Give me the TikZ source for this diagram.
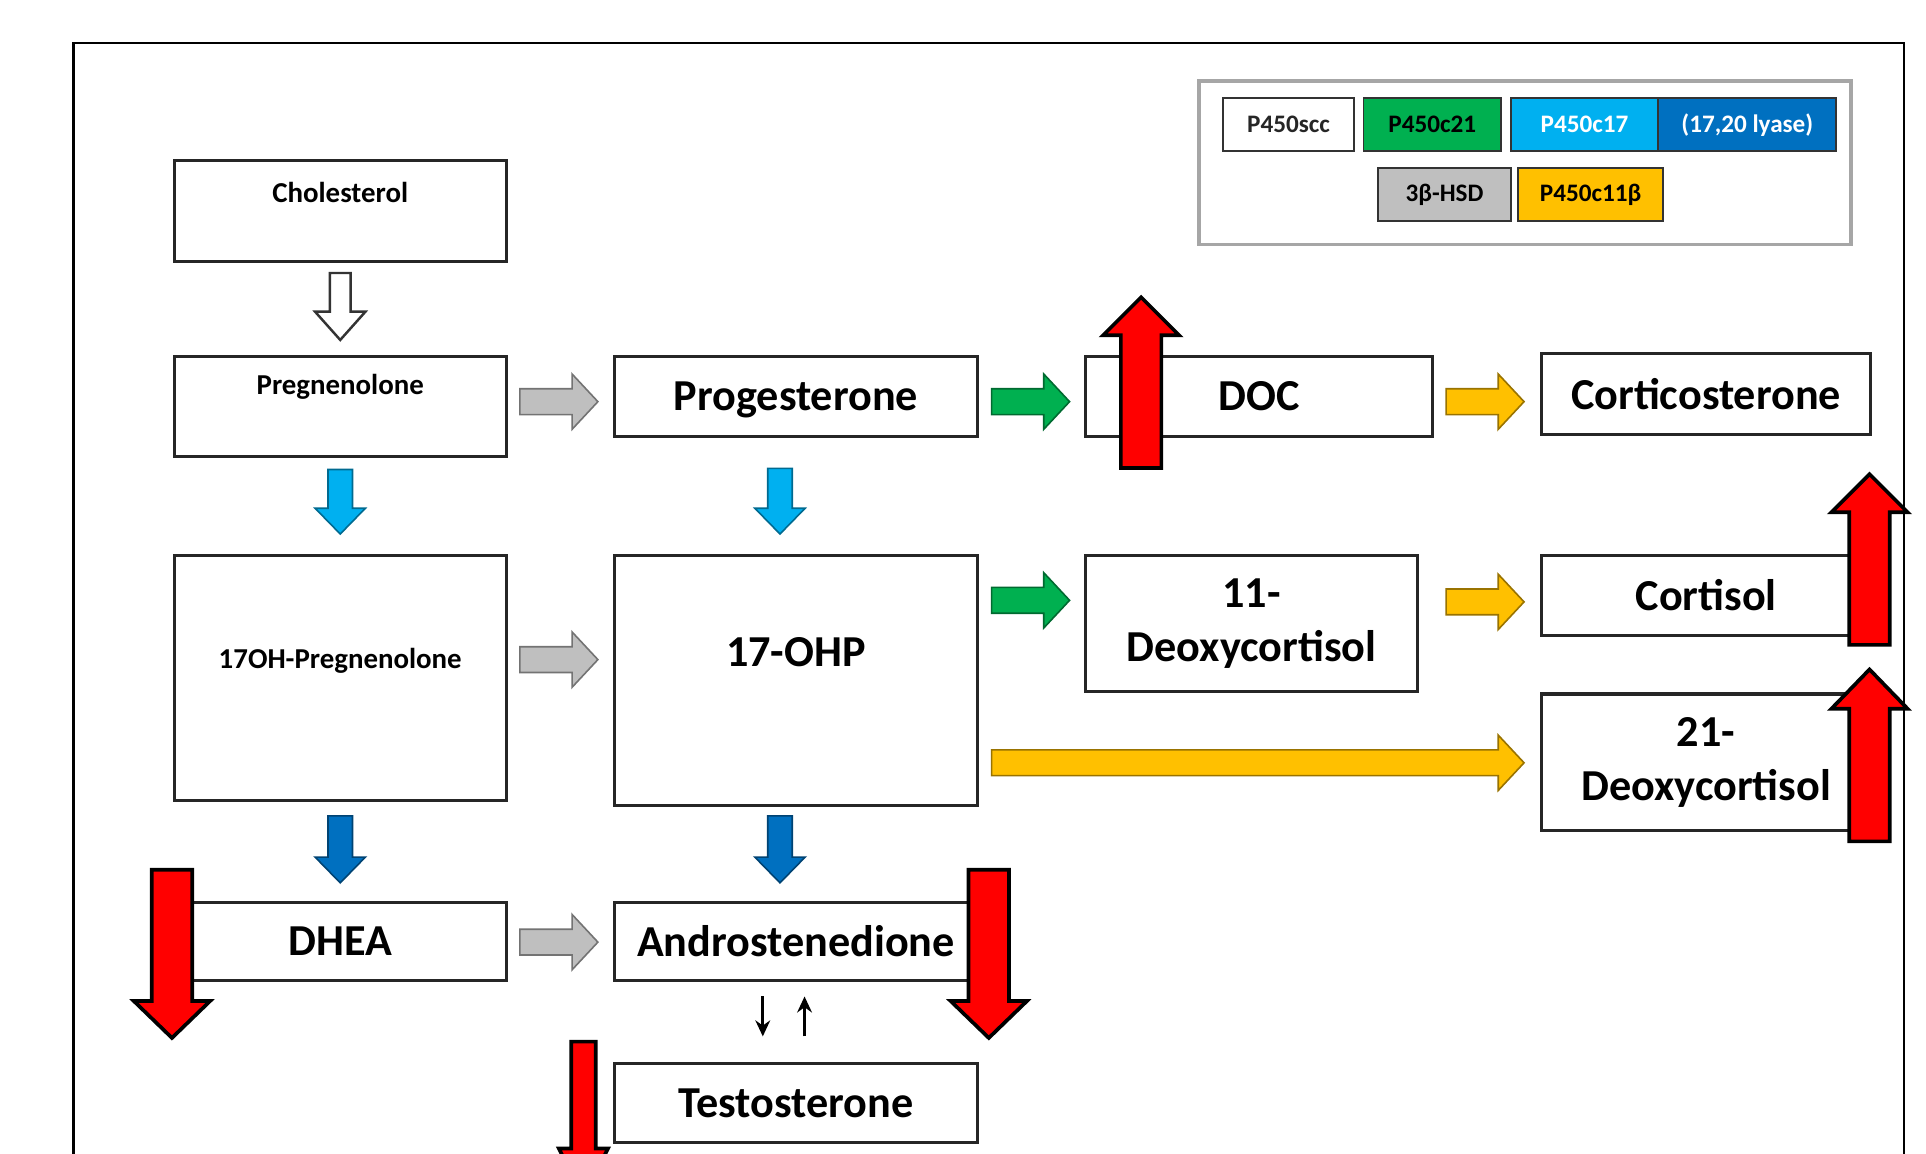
\documentclass[tikz,border=0pt]{standalone}
\usepackage{fontspec}
\setmainfont{Carlito}
\usetikzlibrary{calc,arrows.meta}
\definecolor{cgreen}{HTML}{00B050}
\definecolor{clblue}{HTML}{00B0F0}
\definecolor{cdblue}{HTML}{0070C0}
\definecolor{cgray}{HTML}{BFBFBF}
\definecolor{cgold}{HTML}{FFC000}
\definecolor{cred}{HTML}{FF0000}
\newcommand\bigfont{\fontsize{36}{44}\selectfont\bfseries}
\newcommand\smallfont{\fontsize{23.5}{28}\selectfont\bfseries}
\newcommand\legfont{\fontsize{20.5}{24}\selectfont\bfseries}
% horizontal right block arrow: style, start, end, shaft half, head half, head length
\newcommand\rarrow[6]{\draw[#1] let \p1=#2, \p2=#3 in
 (\x1,\y1+#4pt) -- (\x2-#6pt,\y1+#4pt) -- (\x2-#6pt,\y1+#5pt) -- (\x2,\y1) --
 (\x2-#6pt,\y1-#5pt) -- (\x2-#6pt,\y1-#4pt) -- (\x1,\y1-#4pt) -- cycle;}
% downward block arrow
\newcommand\darrow[6]{\draw[#1] let \p1=#2, \p2=#3 in
 (\x1-#4pt,\y1) -- (\x1-#4pt,\y2+#6pt) -- (\x1-#5pt,\y2+#6pt) -- (\x1,\y2) --
 (\x1+#5pt,\y2+#6pt) -- (\x1+#4pt,\y2+#6pt) -- (\x1+#4pt,\y1) -- cycle;}
% upward block arrow
\newcommand\uarrow[6]{\draw[#1] let \p1=#2, \p2=#3 in
 (\x1-#4pt,\y1) -- (\x1-#4pt,\y2-#6pt) -- (\x1-#5pt,\y2-#6pt) -- (\x1,\y2) --
 (\x1+#5pt,\y2-#6pt) -- (\x1+#4pt,\y2-#6pt) -- (\x1+#4pt,\y1) -- cycle;}
\tikzset{
 box/.style={draw=black!85, line width=2.5pt, fill=white, inner sep=0pt, align=center, font=\bigfont},
 smalltxt/.style={inner sep=0pt, font=\smallfont},
 bigtxt/.style={inner sep=0pt, font=\bigfont},
 leg/.style={draw=black!80, line width=1.5pt, minimum height=43, inner sep=0pt, font=\legfont},
 blk/.style={line width=1.3pt, line join=miter},
 grayarr/.style={blk, fill=cgray, draw=black!55},
 greenarr/.style={blk, fill=cgreen, draw=cgreen!60!black},
 yelarr/.style={blk, fill=cgold, draw=cgold!60!black},
 lbluearr/.style={blk, fill=clblue, draw=clblue!60!black},
 dbluearr/.style={blk, fill=cdblue, draw=cdblue!60!black},
 whitearr/.style={blk, fill=white, draw=black!80, line width=2pt},
 redarr/.style={fill=cred, draw=black, line width=3pt, line join=miter},
 thinarr/.style={line width=2.6pt, -{Stealth[length=13pt,width=12pt]}},
}
\begin{document}
\begin{tikzpicture}[x=1pt, y=-1pt]
\useasboundingbox (0,0) rectangle (1568,939);
\clip (0,0) rectangle (1568,939);
\fill[white] (0,0) rectangle (1568,939);
% outer frame
\draw[line width=2pt] (60,990) |- (1550,35) -- (1550,990);

% legend
\node[draw=black!35, line width=3pt, minimum width=531, minimum height=133, inner sep=0pt] (legend) at (1241.5,132.5) {};
\node[leg, fill=white, minimum width=106, text=black!85] (lscc) at (1049,101.5) {P450scc};
\node[leg, fill=cgreen, minimum width=112] (lc21) at (1166,101.5) {P450c21};
\node[leg, fill=clblue, minimum width=120, text=white] (lc17) at (1290,101.5) {P450c17};
\node[leg, fill=cdblue, minimum width=145, text=white] (llyase) at (1422.5,101.5) {(17,20 lyase)};
\node[leg, fill=cgray, minimum width=108] (lhsd) at (1176,158.5) {3β-HSD};
\node[leg, fill=cgold, minimum width=118] (lc11) at (1295,158.5) {P450c11β};

% boxes
\node[box, minimum width=270, minimum height=82] (chol) at (277,172) {};
\node[smalltxt] (cholt) at (277,157) {Cholesterol};
\node[box, minimum width=270, minimum height=82] (preg) at (277,331) {};
\node[smalltxt] (pregt) at (277,315) {Pregnenolone};
\node[box, minimum width=296, minimum height=65, text depth=0pt] (prog) at (648,322.5) {Progesterone};
\node[box, minimum width=282, minimum height=65] (doc) at (1025,322.5) {DOC};
\node[box, minimum width=268, minimum height=66] (cortico) at (1389,321) {Corticosterone};

\node[box, minimum width=270, minimum height=200] (ohpreg) at (277,552) {};
\node[smalltxt] (ohpregt) at (277,538) {17OH-Pregnenolone};
\node[box, minimum width=296, minimum height=204] (ohp) at (648,554) {};
\node[bigtxt] (ohpt) at (648,531) {17-OHP};
\node[box, minimum width=270, minimum height=111] (deoxyA) at (1019,507.5) {11-\\Deoxycortisol};
\node[box, minimum width=268, minimum height=65] (cortisol) at (1389,484.5) {Cortisol};
\node[box, minimum width=268, minimum height=111] (deoxyB) at (1389,620.5) {21-\\Deoxycortisol};

\node[box, minimum width=270, minimum height=63] (dhea) at (277,766.5) {DHEA};
\node[box, minimum width=296, minimum height=63] (andro) at (648,766.5) {Androstenedione};
\node[box, minimum width=296, minimum height=64] (testo) at (648,898) {Testosterone};

% vertical enzyme arrows
\darrow{whitearr}{($(chol.south)+(0,8)$)}{($(preg.north)+(0,-12)$)}{8.5}{20.5}{23}
\darrow{lbluearr}{($(preg.south)+(0,9)$)}{($(ohpreg.north)+(0,-16)$)}{10}{20.5}{21}
\darrow{lbluearr}{($(prog.south)+(-13,25)$)}{($(ohp.north)+(-13,-16)$)}{10}{20.5}{21}
\darrow{dbluearr}{($(ohpreg.south)+(0,11)$)}{($(dhea.north)+(0,-15)$)}{10}{20.5}{21}
\darrow{dbluearr}{($(ohp.south)+(-13,7)$)}{($(andro.north)+(-13,-15)$)}{10}{20.5}{21}

% horizontal enzyme arrows
\rarrow{grayarr}{($(preg.east)+(10,-4)$)}{($(prog.west)+(-12,0)$)}{10.5}{22.5}{21}
\rarrow{grayarr}{($(ohpreg.east)+(10,-15)$)}{($(ohp.west)+(-12,0)$)}{10.5}{22.5}{21}
\rarrow{grayarr}{($(dhea.east)+(10,0.5)$)}{($(andro.west)+(-12,0)$)}{10.5}{22.5}{21}
\rarrow{greenarr}{($(prog.east)+(10,4.5)$)}{($(doc.west)+(-12,0)$)}{10.5}{22.5}{21}
\rarrow{greenarr}{($(ohp.north east)+(10,38)$)}{($(deoxyA.west)+(-12,0)$)}{10.5}{22.5}{21}
\rarrow{yelarr}{($(doc.east)+(10,4.5)$)}{($(cortico.west)+(-13,0)$)}{10.5}{22.5}{21}
\rarrow{yelarr}{($(deoxyA.east)+(22,-17.5)$)}{($(cortisol.west)+(-13,0)$)}{10.5}{22.5}{21}
\rarrow{yelarr}{($(ohp.east)+(10,67)$)}{($(deoxyB.west)+(-13,0)$)}{10.5}{22.5}{21}

% androstenedione <-> testosterone
\draw[thinarr] ($(andro.south)+(-27,12)$) -- ($(testo.north)+(-27,-21)$);
\draw[thinarr] ($(testo.north)+(7,-21)$) -- ($(andro.south)+(7,12)$);

% red indicator arrows
\uarrow{redarr}{(929,381)}{(929,242)}{16.5}{31}{31}
\uarrow{redarr}{(1522,525)}{(1522,386)}{16.5}{31}{31}
\uarrow{redarr}{(1522,685)}{(1522,545)}{16.5}{31}{32}
\darrow{redarr}{(140,708)}{(140,845)}{16.5}{31}{30}
\darrow{redarr}{(805,708)}{(805,845)}{16.5}{31}{30}
\darrow{redarr}{(475,848)}{(475,975)}{10}{20}{40}
\end{tikzpicture}
\end{document}
